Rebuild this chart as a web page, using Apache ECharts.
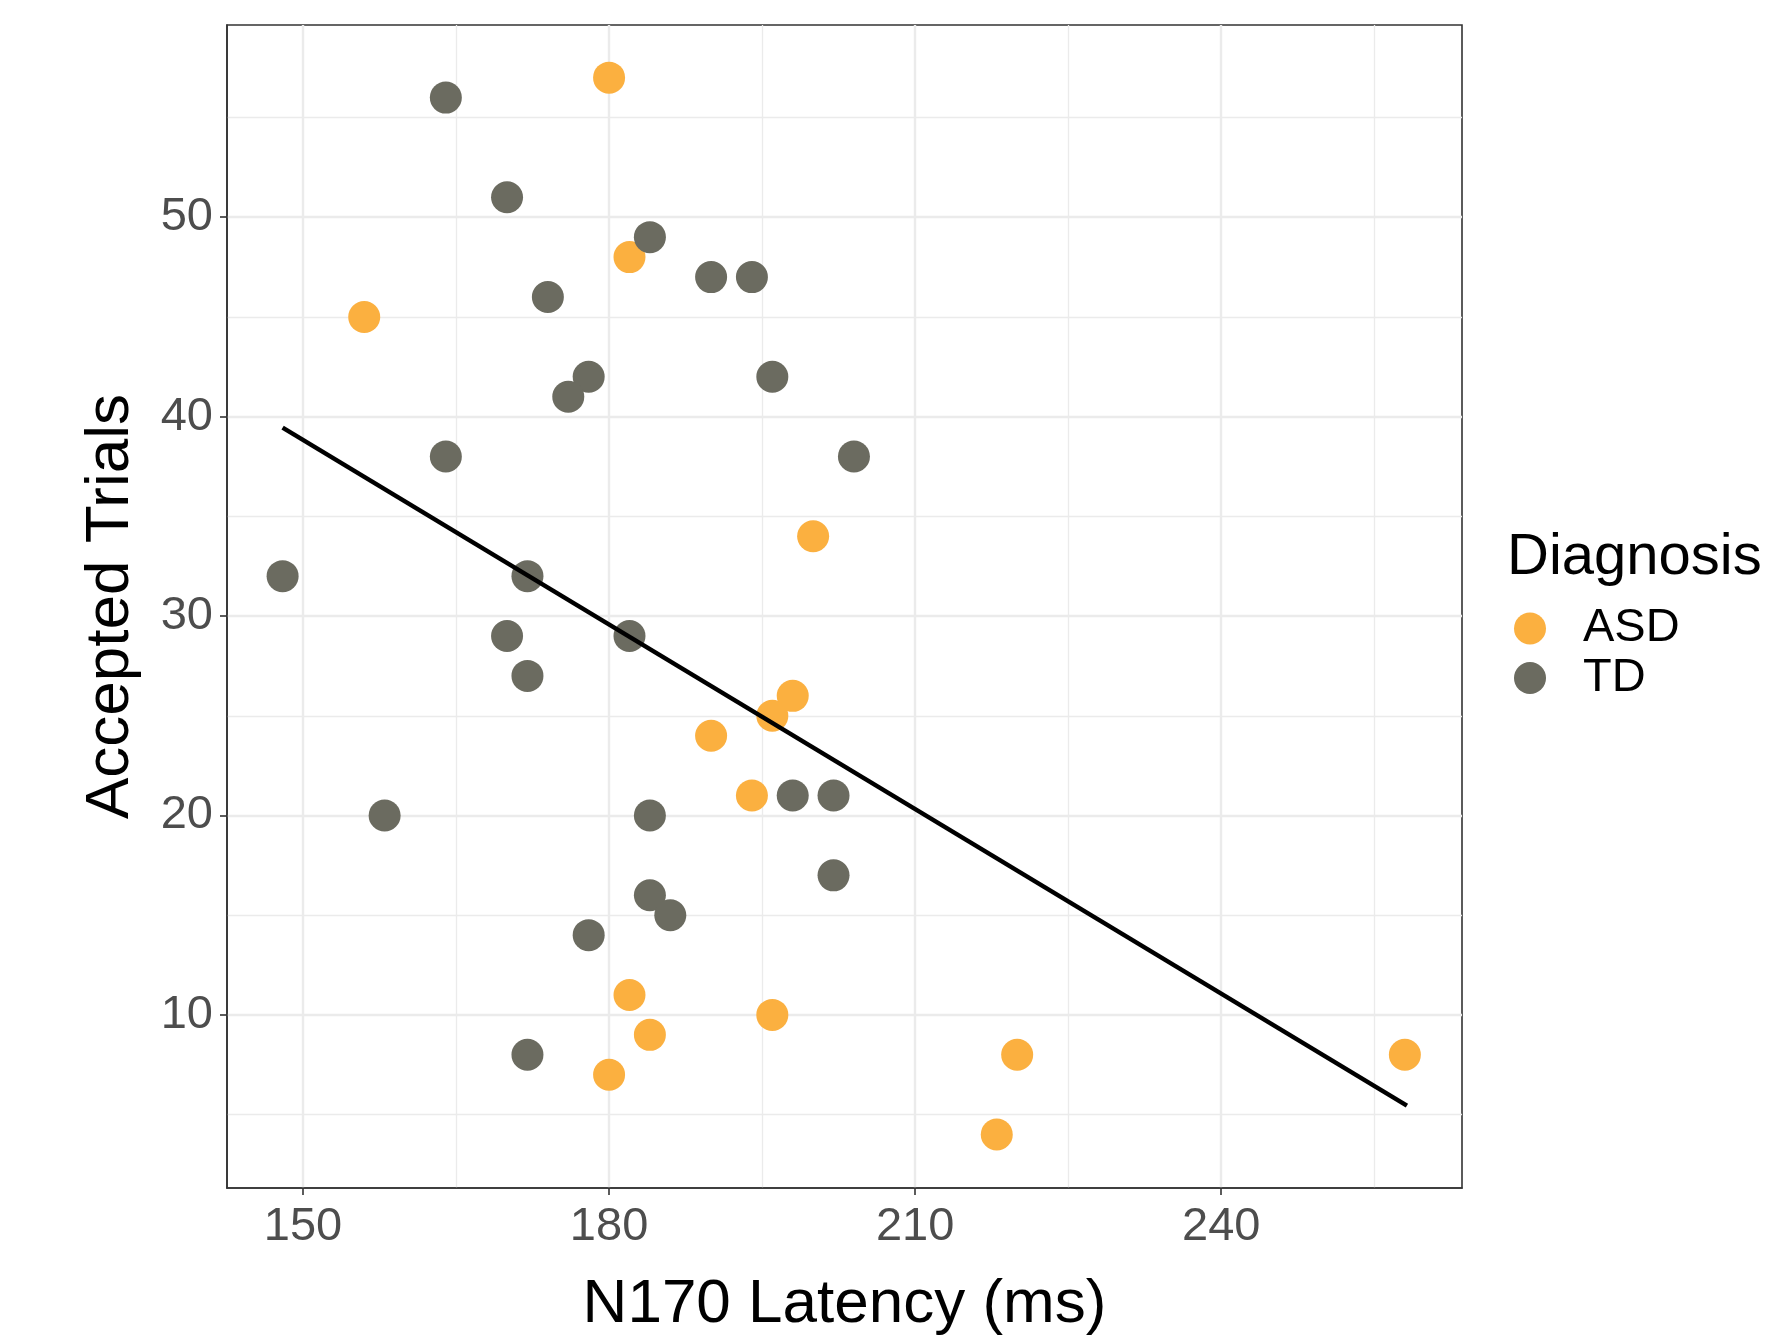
<!DOCTYPE html>
<html>
<head>
<meta charset="utf-8">
<script src="https://cdn.jsdelivr.net/npm/echarts@6/dist/echarts.min.js"></script>
<style>
  html, body { margin: 0; padding: 0; background: #fff; }
  #chart { width: 1771px; height: 1341px; }
</style>
</head>
<body>
<div id="chart"></div>
<script>
"use strict";
// data
var asdX = [180, 182, 156, 200, 198, 196, 190, 194, 182, 184, 196, 180, 220, 218, 258];
var asdY = [57, 48, 45, 34, 26, 25, 24, 21, 11, 9, 10, 7, 8, 4, 8];
var tdX = [164, 170, 184, 190, 194, 174, 178, 176, 196, 164, 204, 148, 172, 170, 182, 172, 158, 184, 198, 202, 202, 184, 186, 178, 172];
var tdY = [56, 51, 49, 47, 47, 46, 42, 41, 42, 38, 38, 32, 32, 29, 29, 27, 20, 20, 21, 21, 17, 16, 15, 14, 8];
// fitted line ends
var fitX = [148, 258.2];
var fitY = [39.45, 5.45];

var xTicks = [150, 180, 210, 240];
var xMinor = [165, 195, 225, 255];
var yTicks = [10, 20, 30, 40, 50];
var yMinor = [5, 15, 25, 35, 45, 55];

var FONT = '"Liberation Sans", Helvetica, Arial, sans-serif';
var xMin = 142.55, xMax = 263.6;
var yMin = 1.32, yMax = 59.64;

function pairs(xs, ys) {
    return xs.map(function (x, i) { return [x, ys[i]]; });
}

var chart = echarts.init(document.getElementById('chart'));

chart.setOption({
    animation: false,
    backgroundColor: '#fff',
    title: {
        text: 'Diagnosis',
        left: 1507,
        top: 529,
        padding: 0,
        textStyle: { fontFamily: FONT, fontSize: 58, fontWeight: 'normal', color: '#000' }
    },
    legend: {
        data: ['ASD', 'TD'],
        orient: 'vertical',
        left: 1514,
        top: 605,
        padding: 0,
        icon: 'circle',
        itemWidth: 32,
        itemHeight: 32,
        itemGap: 2.5,
        textStyle: { fontFamily: FONT, fontSize: 47, color: '#000', lineHeight: 40, padding: [0, 0, 0, 32] }
    },
    grid: {
        left: 227, top: 25, width: 1235, height: 1175,
        show: true, borderColor: '#333', borderWidth: 1.6, backgroundColor: '#fff'
    },
    xAxis: [{
        type: 'value', min: xMin, max: xMax,
        name: 'N170 Latency (ms)', nameLocation: 'middle', nameGap: 86,
        nameTextStyle: { fontFamily: FONT, fontSize: 62, color: '#000' },
        axisLine: { show: true, lineStyle: { color: '#333', width: 1.6 } },
        axisTick: { show: true, length: 7, customValues: xTicks, lineStyle: { color: '#333', width: 1.6 } },
        axisLabel: { customValues: xTicks, fontFamily: FONT, fontSize: 47, color: '#4d4d4d', margin: 16 },
        splitLine: { show: true, lineStyle: { color: '#ebebeb', width: 2.4 } }
    }, {
        type: 'value', min: xMin, max: xMax, position: 'bottom',
        axisLine: { show: false },
        axisTick: { show: false, customValues: xMinor },
        axisLabel: { show: false, customValues: xMinor },
        splitLine: { show: true, lineStyle: { color: '#ebebeb', width: 1.3 } }
    }],
    yAxis: [{
        type: 'value', min: yMin, max: yMax,
        name: 'Accepted Trials', nameLocation: 'middle', nameGap: 85,
        nameTextStyle: { fontFamily: FONT, fontSize: 62, color: '#000' },
        axisLine: { show: true, lineStyle: { color: '#333', width: 1.6 } },
        axisTick: { show: true, length: 7, customValues: yTicks, lineStyle: { color: '#333', width: 1.6 } },
        axisLabel: { customValues: yTicks, fontFamily: FONT, fontSize: 47, color: '#4d4d4d', margin: 14 },
        splitLine: { show: true, lineStyle: { color: '#ebebeb', width: 2.4 } }
    }, {
        type: 'value', min: yMin, max: yMax, position: 'left',
        axisLine: { show: false },
        axisTick: { show: false, customValues: yMinor },
        axisLabel: { show: false, customValues: yMinor },
        splitLine: { show: true, lineStyle: { color: '#ebebeb', width: 1.3 } }
    }],
    series: [{
        name: 'ASD', type: 'scatter', symbolSize: 32,
        itemStyle: { color: '#fbb040', opacity: 1 },
        data: pairs(asdX, asdY), z: 3
    }, {
        name: 'TD', type: 'scatter', symbolSize: 32,
        itemStyle: { color: '#6b6b60', opacity: 1 },
        data: pairs(tdX, tdY), z: 4
    }, {
        name: 'fit', type: 'line', symbol: 'none',
        lineStyle: { color: '#000', width: 4.5, cap: 'butt' },
        data: pairs(fitX, fitY), z: 5
    }]
});
</script>
</body>
</html>
